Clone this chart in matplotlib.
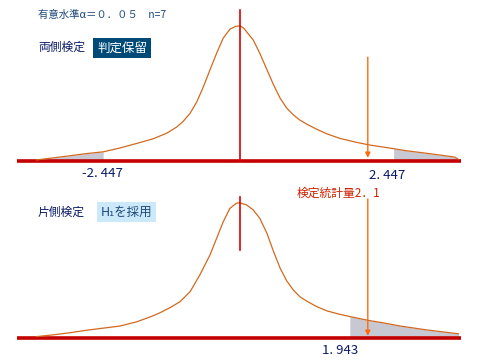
"""Two t-test sketches: two-sided (hold) vs one-sided (accept H1), n=7."""

import matplotlib
matplotlib.use("Agg")
import matplotlib.pyplot as plt
import numpy as np

plt.rcParams["font.family"] = ["Noto Sans CJK JP", "DejaVu Sans"]

# curve: t position and density height
top_t = [-3.39, -3.11, -2.83, -2.56, -2.28, -2.0, -1.72, -1.45, -1.22, -1.06,
         -0.95, -0.83, -0.72, -0.61, -0.5, -0.39, -0.28, -0.17, -0.08, 0.0,
         0.06, 0.11, 0.22, 0.33, 0.45, 0.56, 0.67, 0.78, 0.89, 1.0, 1.11,
         1.28, 1.45, 1.67, 1.89, 2.14, 2.33, 2.56, 2.78, 3.06, 3.33, 3.58,
         3.63]
top_d = [0.003, 0.009, 0.015, 0.021, 0.026, 0.037, 0.050, 0.063, 0.079, 0.096,
         0.112, 0.136, 0.168, 0.211, 0.259, 0.306, 0.349, 0.374, 0.382, 0.384,
         0.378, 0.367, 0.344, 0.306, 0.259, 0.216, 0.178, 0.150, 0.131, 0.116,
         0.105, 0.090, 0.077, 0.064, 0.055, 0.046, 0.041, 0.035, 0.029, 0.023,
         0.017, 0.011, 0.006]

bot_t = [-3.39, -3.11, -2.83, -2.56, -2.28, -2.0, -1.72, -1.45, -1.33, -1.17,
         -1.0, -0.83, -0.67, -0.5, -0.39, -0.28, -0.17, -0.06, 0.0, 0.11,
         0.22, 0.33, 0.45, 0.56, 0.67, 0.78, 0.89, 1.0, 1.11, 1.28, 1.45,
         1.67, 1.83, 2.14, 2.39, 2.67, 3.11, 3.64]
bot_d = [0.004, 0.009, 0.015, 0.022, 0.028, 0.034, 0.046, 0.063, 0.072, 0.086,
         0.103, 0.132, 0.179, 0.236, 0.283, 0.330, 0.368, 0.383, 0.384, 0.378,
         0.364, 0.340, 0.297, 0.245, 0.198, 0.162, 0.136, 0.117, 0.105, 0.089,
         0.077, 0.067, 0.061, 0.050, 0.043, 0.034, 0.023, 0.012]

two_sided_left = -2.28    # where the grey tail ends on the left
two_sided_right = 2.56
one_sided = 1.83
statistic = 2.13          # arrow position

top_x, top_y = np.array(top_t), np.array(top_d)
bot_x, bot_y = np.array(bot_t), np.array(bot_d)

W, H = 480, 360
fig = plt.figure(figsize=(W / 100, H / 100), dpi=100)
ax_top = fig.add_axes([0, 0.5, 1, 0.5])
ax_bot = fig.add_axes([0, 0, 1, 0.5])
ax_top.set_ylim(-19 / 352, 161 / 352)
ax_bot.set_ylim(-22 / 352, 158 / 352)

CURVE = "#d2691e"
BASE = "#c40000"
GREY = "#c8c8d2"
ARROW = "#ff6a10"

for ax, x, y in [(ax_top, top_x, top_y), (ax_bot, bot_x, bot_y)]:
    ax.set_xlim(-4, 4)
    ax.axis("off")
    ax.plot([-3.72, 3.68], [0, 0], color=BASE, lw=2.6, solid_capstyle="butt", zorder=3)
    ax.plot(x, y, color=CURVE, lw=0.9, zorder=4)

ax_top.fill_between(top_x, 0, top_y, where=top_x <= two_sided_left, color=GREY, lw=0, zorder=2)
ax_top.fill_between(top_x, 0, top_y, where=top_x >= two_sided_right, color=GREY, lw=0, zorder=2)
ax_bot.fill_between(bot_x, 0, bot_y, where=bot_x >= one_sided, color=GREY, lw=0, zorder=2)

# centre lines
ax_top.plot([0, 0], [0, 0.429], color="#dd0000", lw=1.2, zorder=5)
ax_bot.plot([0, 0], [0.25, 0.40], color="#dd0000", lw=1.2, zorder=5)

# test statistic arrows
arrow = dict(arrowstyle="-|>,head_width=0.15,head_length=0.3", color=ARROW, lw=1.0,
             shrinkA=0, shrinkB=0)
ax_top.annotate("", xy=(statistic, 0.009), xytext=(statistic, 0.295), arrowprops=arrow, zorder=6)
ax_bot.annotate("", xy=(statistic, 0.006), xytext=(statistic, 0.395), arrowprops=arrow, zorder=6)


def px(x, y):
    return x / W, 1 - y / H


NAVY = "#0a1a66"
fig.text(*px(38, 15), "有意水準α＝０．０５　n=7", color="#1f4a7a", fontsize=7.5, va="center")
fig.text(*px(38, 47), "両側検定", color=NAVY, fontsize=8.5, va="center")
fig.text(*px(97, 48), "判定保留", color="white", fontsize=9, va="center",
         bbox=dict(boxstyle="square,pad=0.3", fc="#004a78", ec="none"))
fig.text(*px(38, 212), "片側検定", color=NAVY, fontsize=8.5, va="center")
fig.text(*px(101, 212), "H₁を採用", color="#1f4a7a", fontsize=9, va="center",
         bbox=dict(boxstyle="square,pad=0.3", fc="#cce9fa", ec="none"))

fig.text(*px(82, 173), "-2. 447", color=NAVY, fontsize=9.5, va="center")
fig.text(*px(369, 175), "2. 447", color=NAVY, fontsize=9.5, va="center")
fig.text(*px(297, 193), "検定統計量2．1", color="#cc2200", fontsize=8.5, va="center")
fig.text(*px(322, 350), "1. 943", color=NAVY, fontsize=9.5, va="center")

fig.savefig("out.png", dpi=100)
